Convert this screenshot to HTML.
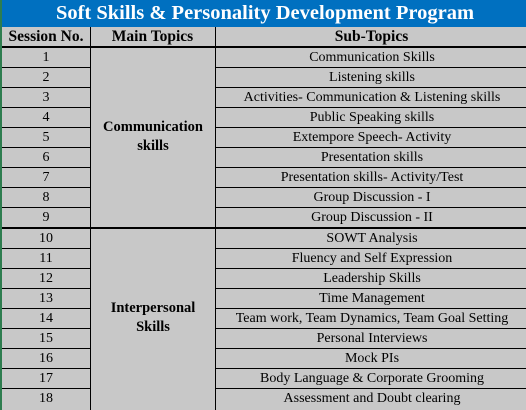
<!DOCTYPE html>
<html><head><meta charset="utf-8"><style>
body{margin:0;width:526px;height:410px;overflow:hidden;background:#c8c8c8;font-family:"Liberation Serif",serif;}
#wrap{position:absolute;left:0;top:0;width:526px;height:410px;background:#c8c8c8;border-left:2px solid #2e7d4f;box-sizing:border-box;}
.t{position:absolute;left:0;top:0;width:526px;height:27px;background:#0070c0;color:#fff;font-weight:bold;font-size:20.5px;text-align:center;line-height:27px;}
.c{position:absolute;text-align:center;color:#000;font-size:14px;box-sizing:border-box;}
.h{font-weight:bold;}
.hd{font-size:15.5px;}
.mt{font-size:14.5px;}
.hl{position:absolute;left:0;width:526px;background:#000;}
.vl{position:absolute;width:1px;background:#000;}
</style></head><body>
<div id="wrap">
<div class="t">Soft Skills &amp; Personality Development Program</div>
<div class="c h hd" style="left:0;top:27px;width:88px;height:20px;line-height:20px">Session No.</div>
<div class="c h hd" style="left:88px;top:27px;width:125px;height:20px;line-height:20px">Main Topics</div>
<div class="c h hd" style="left:213px;top:27px;width:313px;height:20px;line-height:20px">Sub-Topics</div>
<div class="hl" style="top:46px;height:2px"></div>
<div class="hl" style="top:227px;height:2px"></div>
<div class="vl" style="left:88px;top:27px;height:383px"></div>
<div class="vl" style="left:213px;top:27px;height:383px"></div>
<div class="c h mt" style="left:89px;top:118px;width:124px;line-height:19px">Communication<br>skills</div>
<div class="c h mt" style="left:89px;top:299px;width:124px;line-height:19px">Interpersonal<br>Skills</div>
</div>
<script>
const subs=["Communication Skills","Listening skills","Activities- Communication & Listening skills","Public Speaking skills","Extempore Speech- Activity","Presentation skills","Presentation skills- Activity/Test","Group Discussion - I","Group Discussion - II","SOWT Analysis","Fluency and Self Expression","Leadership Skills","Time Management","Team work, Team Dynamics, Team Goal Setting","Personal Interviews","Mock PIs","Body Language & Corporate Grooming","Assessment and Doubt clearing"];
const wrap=document.getElementById('wrap');
subs.forEach((s,i)=>{
 const top=i<9?48+i*20:229+(i-9)*20;
 const n=document.createElement('div');n.className='c';
 n.style.cssText=`left:0;top:${top}px;width:88px;height:19px;line-height:19px`;
 n.textContent=i+1;
 
 
 wrap.appendChild(n);
 const t=document.createElement('div');t.className='c';
 t.style.cssText=`left:214px;top:${top}px;width:312px;height:19px;line-height:19px`;
 t.textContent=s;
 
 
 wrap.appendChild(t);
 if(i!==8&&i!==17){
  const l1=document.createElement('div');l1.className='hl';
  l1.style.cssText=`top:${top+19}px;height:1px;width:88px`;
  
  
  wrap.appendChild(l1);
  const l2=document.createElement('div');l2.className='hl';
  l2.style.cssText=`left:213px;top:${top+19}px;height:1px;width:313px`;
  
  
  wrap.appendChild(l2);
 }
});
</script>
</body></html>
